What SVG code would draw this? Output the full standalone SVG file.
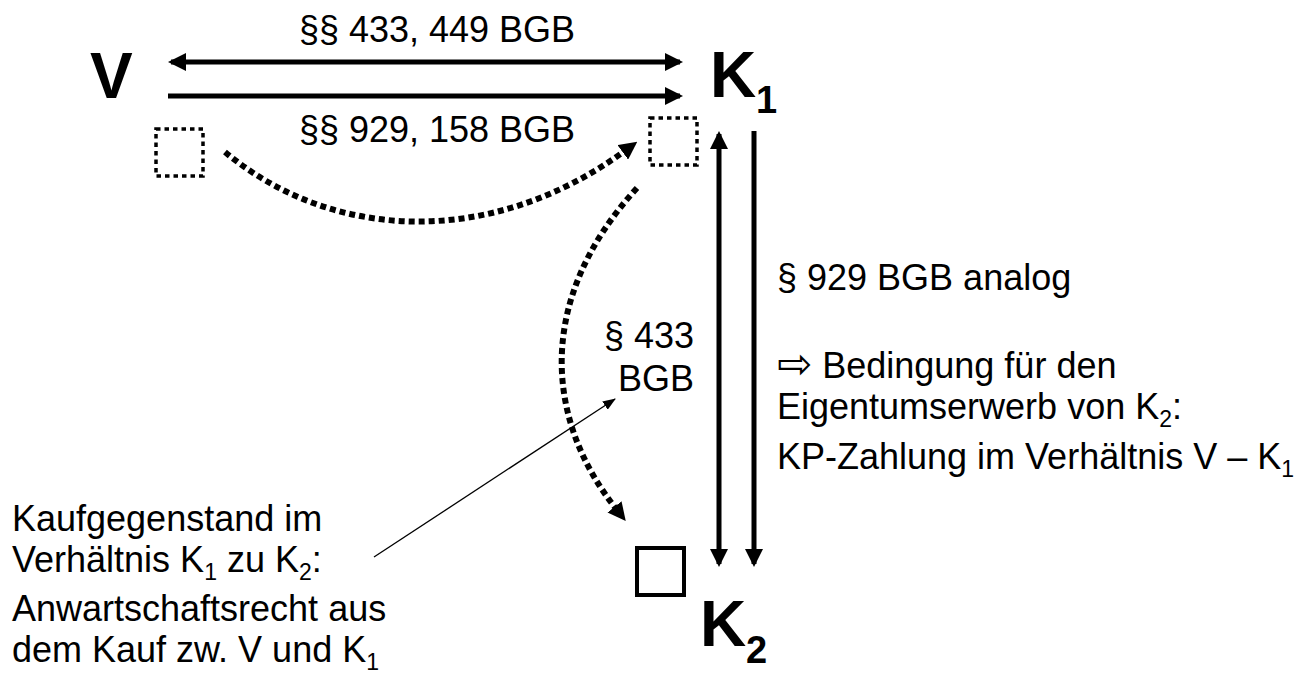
<svg xmlns="http://www.w3.org/2000/svg" width="1307" height="675" viewBox="0 0 1307 675">
<style>
text{font-family:"Liberation Sans",Arial,sans-serif;fill:#000}
.t{font-size:36px}
.big{font-size:64px;font-weight:bold}
.bsub{font-size:38px;font-weight:bold}
.sub{font-size:23px}
.main{stroke:#000;stroke-width:5;fill:none}
.dot{stroke:#000;stroke-width:6;fill:none;stroke-dasharray:6 4}
.dsq{stroke:#000;stroke-width:3.5;fill:none;stroke-dasharray:4.5 4}
.thin{stroke:#000;stroke-width:1.3;fill:none}
</style>
<defs>
<marker id="ah" markerUnits="userSpaceOnUse" markerWidth="18" markerHeight="18" refX="15" refY="9" orient="auto-start-reverse" viewBox="0 0 18 18"><path d="M0,0 L18,9 L0,18 z" fill="#000"/></marker>
<marker id="ahd" markerUnits="userSpaceOnUse" markerWidth="18" markerHeight="18" refX="4" refY="9" orient="auto" viewBox="0 0 18 18"><path d="M0,0 L18,9 L0,18 z" fill="#000"/></marker>
<marker id="ahs" markerUnits="userSpaceOnUse" markerWidth="13" markerHeight="10" refX="12" refY="5" orient="auto" viewBox="0 0 13 10"><path d="M0,0 L13,5 L0,10 z" fill="#000"/></marker>
</defs>

<g id="node-V"><text class="big" x="90" y="98">V</text></g>
<g id="node-K1"><text class="big" x="710" y="97">K</text><text class="bsub" x="756" y="113">1</text></g>
<g id="node-K2"><text class="big" x="700" y="646">K</text><text class="bsub" x="746" y="663">2</text></g>
<g id="box-V"><rect class="dsq" x="156" y="129" width="47" height="47"/></g>
<g id="box-K1"><rect class="dsq" x="650" y="118" width="47" height="47"/></g>
<g id="box-K2"><rect x="637" y="548" width="47" height="47" fill="none" stroke="#000" stroke-width="4"/></g>

<g id="connectors">
<line class="main" x1="171" y1="62" x2="680" y2="62" marker-start="url(#ah)" marker-end="url(#ah)"/>
<line class="main" x1="168" y1="96" x2="680" y2="96" marker-end="url(#ah)"/>
<line class="main" x1="719" y1="134" x2="719" y2="564" marker-start="url(#ah)" marker-end="url(#ah)"/>
<line class="main" x1="754" y1="131" x2="754" y2="564" marker-end="url(#ah)"/>
<path class="dot" d="M225,152 C330,240 490,250 626,150" marker-end="url(#ahd)"/>
<path class="dot" d="M637,188 C535,300 545,420 617,510" marker-end="url(#ahd)"/>
<line class="thin" x1="374" y1="557" x2="615" y2="399" marker-end="url(#ahs)"/>
</g>

<g id="labels">
<text class="t" x="437" y="42" text-anchor="middle">§§ 433, 449 BGB</text>
<text class="t" x="437" y="142" text-anchor="middle">§§ 929, 158 BGB</text>
<text class="t" x="694" y="348" text-anchor="end">§ 433</text>
<text class="t" x="694" y="391" text-anchor="end">BGB</text>
<text class="t" x="777" y="290">§ 929 BGB analog</text>
<text class="t" x="777" y="378"><tspan style="font-family:'DejaVu Sans',sans-serif;font-size:42px">⇨</tspan> Bedingung für den</text>
<text class="t" x="777" y="419">Eigentumserwerb von K<tspan class="sub" dy="8">2</tspan><tspan dy="-8">:</tspan></text>
<text class="t" x="777" y="469">KP-Zahlung im Verhältnis V – K<tspan class="sub" dy="8">1</tspan></text>
<text class="t" x="12" y="531">Kaufgegenstand im</text>
<text class="t" x="12" y="572">Verhältnis K<tspan class="sub" dy="8">1</tspan><tspan dy="-8"> zu K</tspan><tspan class="sub" dy="8">2</tspan><tspan dy="-8">:</tspan></text>
<text class="t" x="12" y="621">Anwartschaftsrecht aus</text>
<text class="t" x="12" y="662">dem Kauf zw. V und K<tspan class="sub" dy="8">1</tspan></text>
</g>
</svg>
